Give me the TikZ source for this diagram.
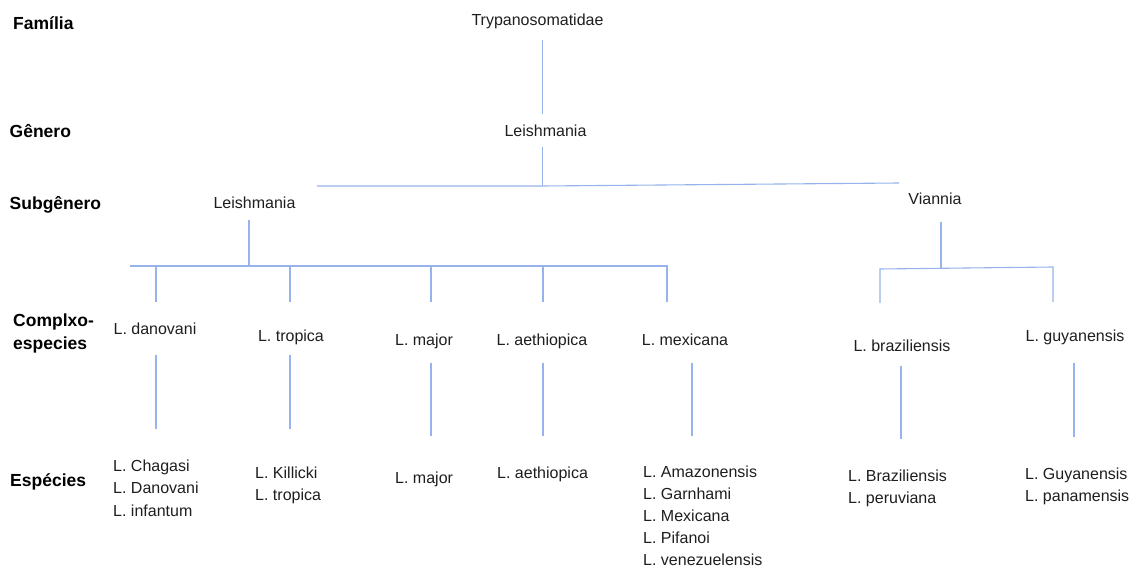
\documentclass[tikz,border=0pt]{standalone}
\usepackage{fontspec}
\setmainfont{Liberation Sans}
\definecolor{linec}{RGB}{150,180,235}
\definecolor{txt}{RGB}{30,30,30}
\tikzset{
  lbl/.style={inner sep=0, anchor=base, font=\fontsize{16}{22.5}\selectfont, text=txt},
  lst/.style={inner sep=0, anchor=north west, align=left, font=\fontsize{16}{22.5}\selectfont, text=txt},
  rank/.style={inner sep=0, anchor=base west, font=\fontsize{17.5}{23}\selectfont\bfseries, text=black},
  conn/.style={draw=linec, line width=1.1pt},
}
\begin{document}
\begin{tikzpicture}[x=1pt,y=-1pt]
\useasboundingbox (0,0) rectangle (1141,569);
% rank labels
\node[rank] (rfam) at (13,29.5) {Família};
\node[rank] (rgen) at (9.5,138) {Gênero};
\node[rank] (rsub) at (9.5,210) {Subgênero};
\node[rank, anchor=north west, align=left] (rcom) at (13,312.5) {\rule{0pt}{13.5pt}Complxo-\\especies};
\node[rank] (resp) at (10,486) {Espécies};
% taxa
\node[lbl] (tryp) at (537.5,26) {Trypanosomatidae};
\node[lbl] (gen) at (545.5,136.7) {Leishmania};
\node[lbl] (subL) at (254.5,209) {Leishmania};
\node[lbl] (subV) at (935,205) {Viannia};
\node[lbl] (cDon) at (155,335) {L. danovani};
\node[lbl] (cTro) at (291,342) {L. tropica};
\node[lbl] (cMaj) at (424,345) {L. major};
\node[lbl] (cAet) at (542,345) {L. aethiopica};
\node[lbl] (cMex) at (685,345) {L. mexicana};
\node[lbl] (cBra) at (902,352) {L. braziliensis};
\node[lbl] (cGuy) at (1075,342) {L. guyanensis};
% species
\node[lst] (sDon) at (113,459) {\rule{0pt}{12pt}L. Chagasi\\L. Danovani\\L. infantum};
\node[lst] (sTro) at (255,466) {\rule{0pt}{12pt}L. Killicki\\L. tropica};
\node[lbl, anchor=base west] (sMaj) at (395,483) {L. major};
\node[lbl, anchor=base west] (sAet) at (497,478) {L. aethiopica};
\node[lst, font=\fontsize{16}{22}\selectfont] (sMex) at (643,465) {\rule{0pt}{12pt}L. Amazonensis\\L. Garnhami\\L. Mexicana\\L. Pifanoi\\L. venezuelensis};
\node[lst] (sBra) at (848,469) {\rule{0pt}{12pt}L. Braziliensis\\L. peruviana};
\node[lst] (sGuy) at (1025,467) {\rule{0pt}{12pt}L. Guyanensis\\L. panamensis};
% connector end points
\coordinate (t1) at (542.7,40);
\coordinate (t2) at (542.7,114);
\coordinate (g1) at (542.7,147);
\coordinate (g2) at (542.7,186);
\coordinate (hL) at (317,186);
\coordinate (hR) at (899,183);
\coordinate (l1) at (249,220);
\coordinate (l2) at (249,266);
\coordinate (lbL) at (130,266);
\coordinate (lbR) at (667,266);
\coordinate (dDon) at (156,302);
\coordinate (dTro) at (290,302);
\coordinate (dMaj) at (431,302);
\coordinate (dAet) at (543,302);
\coordinate (dMex) at (667,302);
\coordinate (v1) at (941,222);
\coordinate (v2) at (941,268);
\coordinate (vbL) at (880,269);
\coordinate (vbR) at (1053,267);
\coordinate (dBra) at (880,303);
\coordinate (dGuy) at (1053,302);
\coordinate (eDon1) at (156,355);  \coordinate (eDon2) at (156,429);
\coordinate (eTro1) at (290,355);  \coordinate (eTro2) at (290,429);
\coordinate (eMaj1) at (431,363);  \coordinate (eMaj2) at (431,436);
\coordinate (eAet1) at (543,363);  \coordinate (eAet2) at (543,436);
\coordinate (eMex1) at (692,363);  \coordinate (eMex2) at (692,436);
\coordinate (eBra1) at (901,366);  \coordinate (eBra2) at (901,439);
\coordinate (eGuy1) at (1074,363); \coordinate (eGuy2) at (1074,437);
% connectors
\draw[conn] (t1) -- (t2);
\draw[conn] (g1) -- (g2);
\draw[conn] (hL) -- (g2) -- (hR);
\draw[conn] (l1) -- (l2);
\draw[conn] (lbL) -- (lbR) -- (dMex);
\draw[conn] (dDon |- lbL) -- (dDon);
\draw[conn] (dTro |- lbL) -- (dTro);
\draw[conn] (dMaj |- lbL) -- (dMaj);
\draw[conn] (dAet |- lbL) -- (dAet);
\draw[conn] (v1) -- (v2);
\draw[conn] (dBra) -- (vbL) -- (vbR) -- (dGuy);
\draw[conn] (eDon1) -- (eDon2);
\draw[conn] (eTro1) -- (eTro2);
\draw[conn] (eMaj1) -- (eMaj2);
\draw[conn] (eAet1) -- (eAet2);
\draw[conn] (eMex1) -- (eMex2);
\draw[conn] (eBra1) -- (eBra2);
\draw[conn] (eGuy1) -- (eGuy2);
\end{tikzpicture}
\end{document}
